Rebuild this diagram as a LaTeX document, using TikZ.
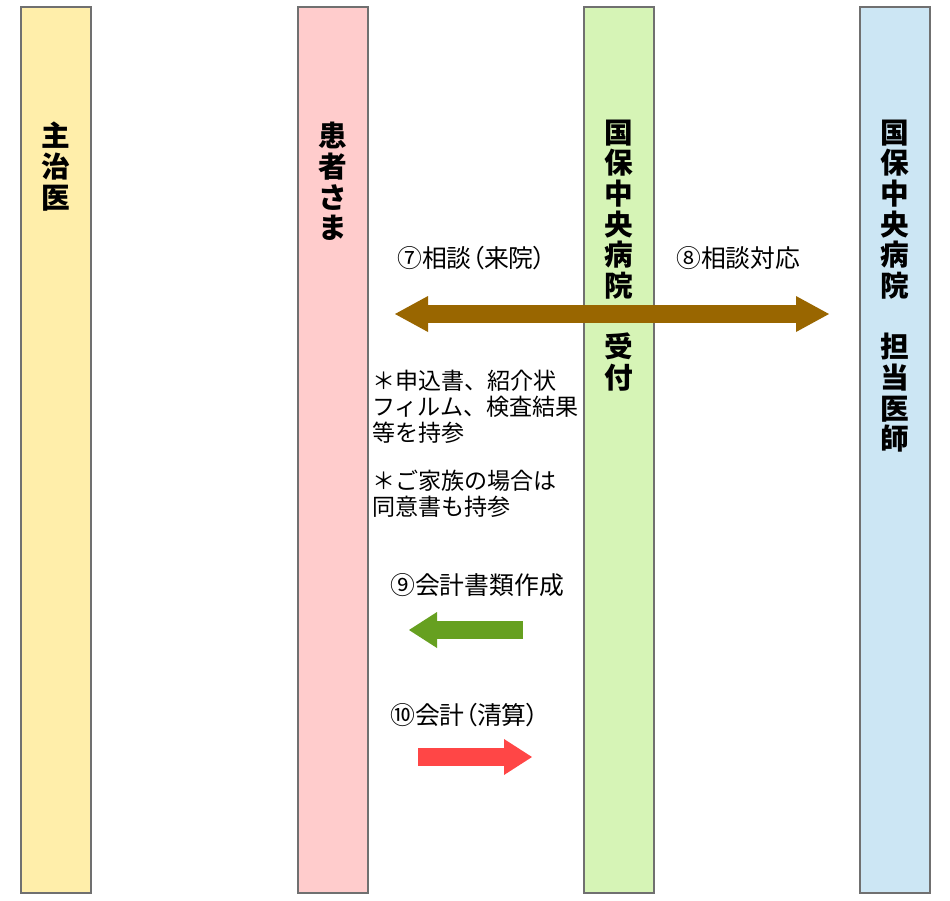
\documentclass[tikz,border=0pt]{standalone}
\usepackage{fontspec}
\usepackage{tikz}
\usetikzlibrary{positioning,arrows.meta}
\newfontfamily\jp{Noto Sans CJK JP}
\newfontfamily\jpp[RawFeature=+palt]{Noto Sans CJK JP}
\definecolor{laneyellow}{HTML}{FFEEAA}
\definecolor{lanepink}{HTML}{FFCCCC}
\definecolor{lanegreen}{HTML}{D6F4B6}
\definecolor{laneblue}{HTML}{CCE6F4}
\definecolor{lanegray}{HTML}{707070}
\definecolor{flowbrown}{HTML}{996600}
\definecolor{flowgreen}{HTML}{66A020}
\definecolor{flowred}{HTML}{FF4646}

\begin{document}
\begin{tikzpicture}[x=0.75pt,y=-0.75pt,
	lane/.style={draw=lanegray, line width=1.5pt, minimum width=52.5pt, minimum height=664.5pt, inner sep=0pt},
	lanetext/.style={font=\jp\bfseries\fontsize{21.5}{23}\selectfont, align=center, inner sep=0pt, anchor=north},
	note/.style={font=\jp\fontsize{17.3}{19.6}\selectfont, inner sep=0pt},
	steptext/.style={font=\jpp\fontsize{18.6}{20}\selectfont, inner sep=0pt, anchor=west},
	bigflow/.style={line width=13.5pt, -{Triangle[length=24.75pt,width=27pt,line width=0pt]}},
	smallflow/.style={line width=13pt, -{Triangle[length=21pt,width=27pt,line width=0pt]}}]
	\useasboundingbox[fill=white] (0,0) rectangle (950,900);

	% lanes
	\node[lane, fill=laneyellow] (doctor) at (56,450) {};
	\node[lane, fill=lanepink] (patient) at (333,450) {};
	\node[lane, fill=lanegreen] (reception) at (619,450) {};
	\node[lane, fill=laneblue] (specialist) at (895,450) {};
	\node[lanetext, below=87pt of doctor.north] (doctortext) {主\\治\\医};
	\node[lanetext, below=87pt of patient.north] (patienttext) {患\\者\\さ\\ま};
	\node[lanetext, below=85pt of reception.north] (receptiontext) {国\\保\\中\\央\\病\\院\\　\\受\\付};
	\node[lanetext, below=85pt of specialist.north] (specialisttext) {国\\保\\中\\央\\病\\院\\　\\担\\当\\医\\師};

	% step 7 and 8
	\coordinate (s78) at (647,314);
	\coordinate (e7) at (395,314);
	\coordinate (e8) at (829,314);
	\draw[bigflow, flowbrown] (s78) -- (e7);
	\draw[bigflow, flowbrown] (s78) -- (e8);
	\node[steptext] (t7) at (397,258) {⑦相談（来院）};
	\node[steptext] (t8) at (676,258) {⑧相談対応};
	\node[note, anchor=north west, align=left] (memo) at (372,370) {＊申込書、紹介状\\フィルム、検査結果\\等を持参\\[16pt]＊ご家族の場合は\\同意書も持参};

	% step 9
	\coordinate (s9) at (523,630);
	\coordinate (e9) at (409,630);
	\draw[smallflow, flowgreen] (s9) -- (e9);
	\node[steptext] (t9) at (390,585) {⑨会計書類作成};

	% step 10
	\coordinate (s10) at (418,757);
	\coordinate (e10) at (532,757);
	\draw[smallflow, flowred] (s10) -- (e10);
	\node[steptext] (t10) at (390,715) {⑩会計（清算）};
\end{tikzpicture}
\end{document}
